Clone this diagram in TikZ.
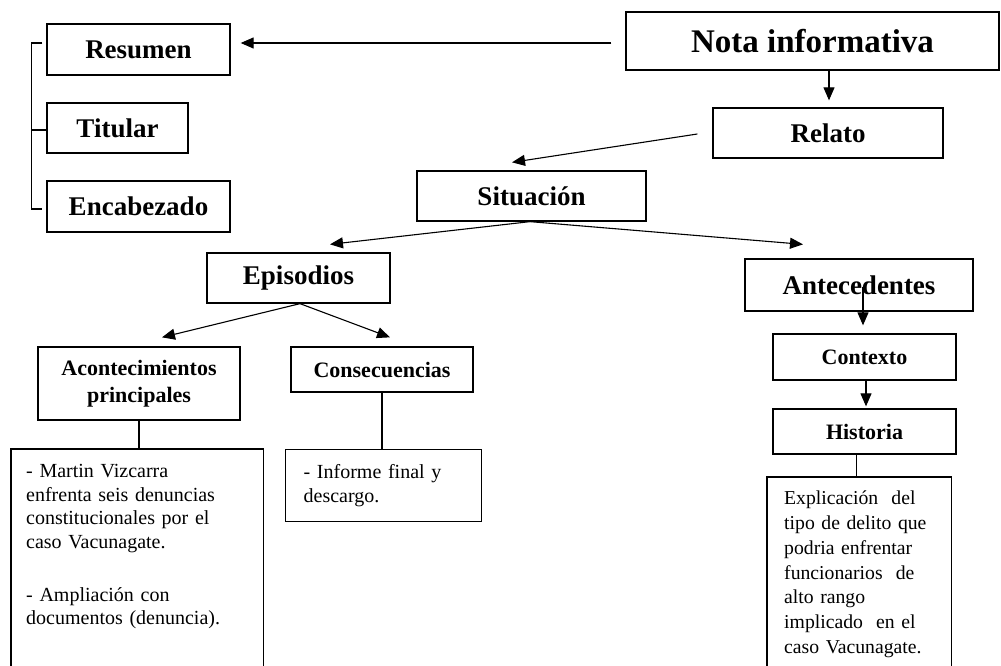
\documentclass[tikz,border=0pt]{standalone}
\usepackage{fontspec}
\setmainfont{Liberation Serif}
\usetikzlibrary{arrows.meta}
\begin{document}
\begin{tikzpicture}[x=1pt,y=-1pt,
  box/.style={draw, line width=1.3pt, inner sep=0pt, align=center, font=\bfseries\fontsize{27}{32}\selectfont},
  sbox/.style={draw, line width=1.3pt, inner sep=0pt, align=center, font=\bfseries\fontsize{22}{27}\selectfont},
  textbox/.style={draw=none, anchor=north west, align=left, inner ysep=15pt, font=\fontsize{20}{23.7}\selectfont},
  arr/.style={line width=1.1pt, -{Triangle[length=13pt,width=11pt]}},
  ln/.style={line width=1.1pt},
  frame/.style={line width=1.3pt}]
\useasboundingbox (0,0) rectangle (1001,666);
\coordinate (bottom) at (0,680);

\node[box, minimum width=183pt, minimum height=51pt] (res) at (138.5,49.5) {Resumen};
\node[box, minimum width=141pt, minimum height=50pt] (tit) at (117.5,128) {Titular};
\node[box, minimum width=183pt, minimum height=51pt] (enc) at (138.5,206.5) {Encabezado};
\node[box, minimum width=373pt, minimum height=58pt, font=\bfseries\fontsize{33}{38}\selectfont] (nota) at (812.5,41) {Nota informativa};
\node[box, minimum width=230pt, minimum height=50pt] (rel) at (828,133) {Relato};
\node[box, minimum width=229pt, minimum height=50pt] (sit) at (531.5,196) {Situación};
\node[box, minimum width=183pt, minimum height=50pt] (epi) at (298.5,278) {Episodios};
\node[box, minimum width=228pt, minimum height=52pt] (ant) at (859,285) {Antecedentes};
\node[sbox, minimum width=202pt, minimum height=73pt] (aco) at (139,383.5) {Acontecimientos\\principales};
\node[sbox, minimum width=182pt, minimum height=45pt] (con) at (382,369.5) {Consecuencias};
\node[sbox, minimum width=183pt, minimum height=46pt] (ctx) at (864.5,357) {Contexto};
\node[sbox, minimum width=183pt, minimum height=45pt] (his) at (864.5,431.5) {Historia};

\node[textbox, inner xsep=15pt, text width=222pt] (mar) at (11,449)
  {- Martin Vizcarra\\ enfrenta seis denuncias\\ constitucionales por el\\ caso Vacunagate.\\[29pt] - Ampliación con\\ documentos (denuncia).};
\draw[frame] (mar.north west |- bottom) -- (mar.north west) -- (mar.north east) -- (mar.north east |- bottom);

\node[textbox, draw, line width=1.3pt, inner xsep=18pt, text width=160pt, minimum height=69pt] (inf) at (285,449)
  {- Informe final y\\ descargo.};

\node[textbox, inner xsep=17pt, inner ysep=14pt, text width=150pt, font=\fontsize{19.7}{24.7}\selectfont] (exp) at (767,477)
  {Explicación\ \ del\\ tipo de delito que\\ podria enfrentar\\ funcionarios\ \ de\\ alto rango\\ implicado\ \ en el\\ caso Vacunagate.};
\draw[frame] (exp.north west |- bottom) -- (exp.north west) -- (exp.north east) -- (exp.north east |- bottom);

% bracket
\draw[ln] ([xshift=-4pt,yshift=6.5pt]res.west) -- ++(-11pt,0) |- ([xshift=-4pt,yshift=-2.5pt]enc.west);
\draw[ln] ([yshift=-2pt]tit.west) -- ++(-15pt,0);

% connectors
\draw[arr] ([xshift=-14pt,yshift=-2pt]nota.west) -- ([xshift=10pt,yshift=6.5pt]res.east);
\draw[arr, shorten >=7pt] ([xshift=1pt]nota.south -| rel.north) -- ([xshift=1pt]rel.north);
\draw[arr] ([xshift=-15pt,yshift=-1pt]rel.west) -- ([xshift=-19.5pt,yshift=8pt]sit.north);
\draw[arr] ([xshift=-1.5pt]sit.south) -- ([xshift=31.5pt,yshift=8pt]epi.north);
\draw[arr] ([xshift=-1.5pt]sit.south) -- ([xshift=-56pt,yshift=14pt]ant.north);
\draw[arr] ([xshift=1.5pt]epi.south) -- ([xshift=23pt,yshift=9pt]aco.north);
\draw[arr] ([xshift=1.5pt]epi.south) -- ([xshift=8pt,yshift=9pt]con.north);
\draw[arr] ([xshift=4pt,yshift=-2pt]ant.center) -- ([xshift=-1.5pt,yshift=8pt]ctx.north);
\draw[arr, shorten >=2pt] ([xshift=1.5pt]ctx.south) -- ([xshift=1.5pt]his.north);
\draw[ln] (aco.south) -- (aco.south |- mar.north);
\draw[ln] (con.south) -- (con.south |- inf.north);
\draw[ln] ([xshift=-3pt]exp.north |- his.south) -- ([xshift=-3pt]exp.north);
\end{tikzpicture}
\end{document}
